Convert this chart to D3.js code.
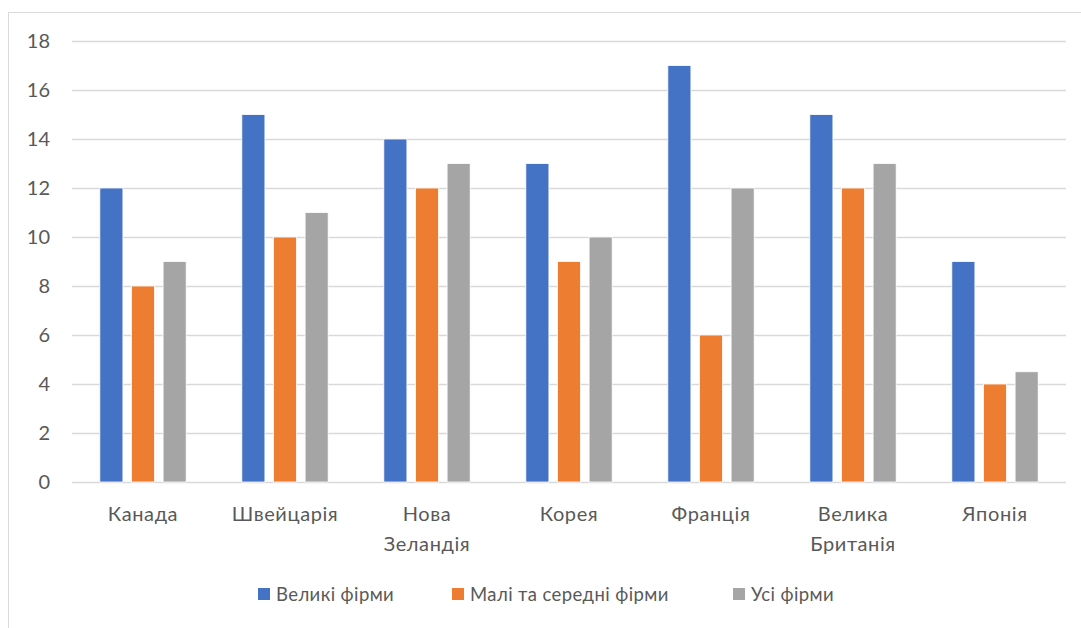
<!DOCTYPE html>
<html>
<head>
<meta charset="utf-8">
<script src="https://cdn.jsdelivr.net/npm/d3@7"></script>
<style>
  body { margin: 0; background: #fff; }
  text { font-family: Lato, "Open Sans", sans-serif; fill: #595959; }
</style>
</head>
<body>
<div id="chart"></div>
<script>
// Width and height
var chart_width  = 1081;
var chart_height = 628;

// Data
var countries = [['Канада'], ['Швейцарія'], ['Нова', 'Зеландія'], ['Корея'], ['Франція'], ['Велика', 'Британія'], ['Японія']];
var series_names = ['Великі фірми', 'Малі та середні фірми', 'Усі фірми'];
var large_firms = [12, 15, 14, 13, 17, 15, 9];
var sme_firms   = [8, 10, 12, 9, 6, 12, 4];
var all_firms   = [9, 11, 13, 10, 12, 13, 4.5];
var y_ticks     = [0, 2, 4, 6, 8, 10, 12, 14, 16, 18];

var colors = ['#4472C4', '#ED7D31', '#A5A5A5'];
var series = [large_firms, sme_firms, all_firms];

var margin = {left: 72, right: 15, top: 41, bottom: 146};

var svg = d3.select('#chart')
    .append('svg')
    .attr('width', chart_width)
    .attr('height', chart_height);

// outer frame
svg.append('rect')
    .attr('x', 8.5).attr('y', 12.5)
    .attr('width', chart_width + 10).attr('height', chart_height + 10)
    .attr('fill', 'none')
    .attr('stroke', '#d9d9d9')
    .attr('stroke-width', 1);

var x0 = d3.scaleBand()
    .domain(d3.range(countries.length))
    .range([margin.left, 1066])
    .paddingInner(0)
    .paddingOuter(0);

var x1 = d3.scaleBand()
    .domain(d3.range(series.length))
    .range([0, x0.bandwidth()])
    .paddingInner(0.27)
    .paddingOuter(0.88);

var y = d3.scaleLinear()
    .domain([0, 18])
    .range([482, 41]);

// gridlines
svg.append('g')
    .selectAll('line')
    .data(y_ticks)
    .enter()
    .append('line')
    .attr('x1', margin.left)
    .attr('x2', 1066)
    .attr('y1', function(d){ return Math.round(y(d)) + 0.5; })
    .attr('y2', function(d){ return Math.round(y(d)) + 0.5; })
    .attr('stroke', '#d9d9d9')
    .attr('stroke-width', 1.5);

// y axis labels
var yAxis = d3.axisLeft(y).tickValues(y_ticks).tickSize(0).tickPadding(0);
var gy = svg.append('g')
    .attr('transform', 'translate(50,0)')
    .call(yAxis);
gy.select('.domain').remove();
gy.selectAll('text')
    .style('font-family', 'Lato, sans-serif')
    .style('font-size', '20px')
    .attr('fill', '#595959');

// bars
series.forEach(function(values, si){
    svg.append('g')
        .selectAll('rect')
        .data(values)
        .enter()
        .append('rect')
        .attr('x', function(d, i){ return x0(i) + x1(si); })
        .attr('y', function(d){ return y(d); })
        .attr('width', x1.bandwidth())
        .attr('height', function(d){ return y(0) - y(d); })
        .attr('fill', colors[si])
        .attr('stroke', '#fff')
        .attr('stroke-width', 0.8);
});

// category labels
var cat = svg.append('g')
    .selectAll('text')
    .data(countries)
    .enter()
    .append('text')
    .attr('text-anchor', 'middle')
    .style('font-size', '20px')
    .style('letter-spacing', '0.6px');
cat.each(function(lines, i){
    var t = d3.select(this);
    lines.forEach(function(l, li){
        t.append('tspan')
            .attr('x', x0(i) + x0.bandwidth() / 2)
            .attr('y', 521 + li * 30)
            .text(l);
    });
});

// legend
var legend_x = [258, 452, 733];
var lg = svg.append('g')
    .selectAll('g')
    .data(series_names)
    .enter()
    .append('g')
    .attr('transform', function(d, i){ return 'translate(' + legend_x[i] + ',588)'; });
lg.append('rect')
    .attr('width', 12).attr('height', 12)
    .attr('fill', function(d, i){ return colors[i]; });
lg.append('text')
    .attr('x', 18).attr('y', 13)
    .style('font-size', '18.5px')
    .style('letter-spacing', '0.4px')
    .text(function(d){ return d; });
</script>
</body>
</html>
